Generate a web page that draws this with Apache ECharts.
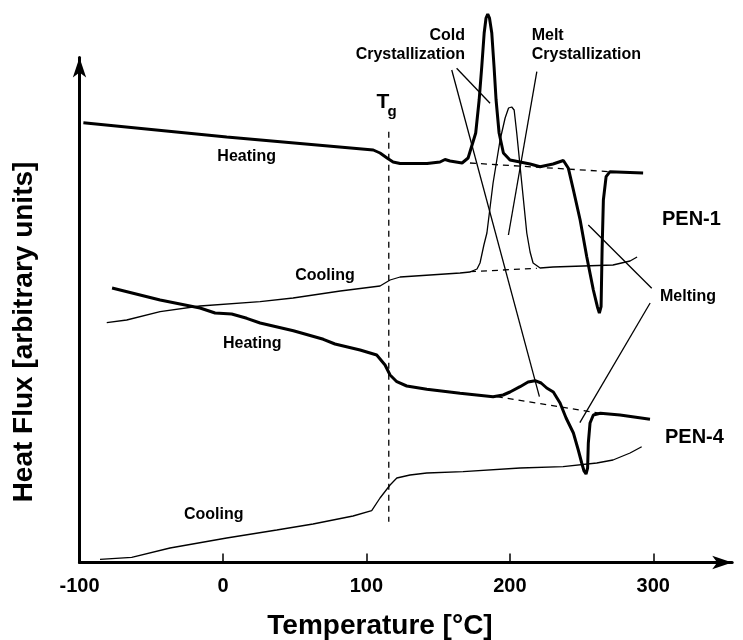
<!DOCTYPE html>
<html>
<head>
<meta charset="utf-8">
<title>PEN DSC</title>
<script src="https://cdn.jsdelivr.net/npm/echarts@6/dist/echarts.min.js"></script>
<style>
  html, body { margin: 0; padding: 0; background: #fff; }
  #chart { width: 743px; height: 640px; }
</style>
</head>
<body>
<div id="chart"></div>
<script>
// x = temperature [°C], y = heat flux (arbitrary units, 0 at the x axis)
const xTicks = [-100, 0, 100, 200, 300];

// PEN-1 heating (thick)
const pen1Heating = [
  [-97.3, 439.8], [2.6, 425.5], [104.8, 412.5], [109.5, 409.5], [114.4, 404.5],
  [118.6, 400.5], [123.5, 399], [142.3, 399], [151.3, 400.5], [154.8, 403],
  [158.3, 401.5], [166.7, 399.5], [170.9, 404.5], [176.2, 429.5], [178.6, 462.5],
  [180.4, 495.5], [182.1, 529.5], [183.4, 544.5], [184.6, 548.5], [185.8, 544.5],
  [187.4, 529.5], [189.0, 495.5], [190.4, 462.5], [192.5, 429.5], [195.5, 409.5],
  [200.1, 402.5], [214.1, 398.5], [221.1, 395.8], [230.1, 398.5], [237.3, 402],
  [240.8, 394.2], [244.3, 372.5], [249.0, 342.5], [253.6, 305.8], [258.2, 272.5],
  [261.0, 255.8], [262.4, 249.5], [263.6, 255.8], [264.3, 312.5], [265.2, 362.5],
  [267.1, 385.8], [269.8, 390.8], [292.9, 389.5]
];

// PEN-1 cooling (thin)
const pen1Cooling = [
  [-81.0, 239.8], [-67.1, 242.5], [-43.8, 250.8], [-16.0, 256.5], [25.9, 260.8],
  [48.9, 264.5], [81.8, 271.5], [109.5, 276.5], [116.5, 282.5], [123.5, 285.5],
  [165.3, 289.5], [172.2, 290.5], [177.1, 293.5], [179.2, 299.5], [181.9, 317.5],
  [184.0, 329.5], [188.3, 379.5], [193.2, 422.5], [196.7, 444.5], [199.1, 454.5],
  [201.3, 455.5], [203.0, 452.5], [204.8, 429.5], [208.3, 379.5], [211.8, 329.5],
  [214.1, 310.5], [216.2, 299.5], [221.1, 294.5], [230.1, 295.5], [271.9, 297.5],
  [283.8, 301.5], [288.7, 305.5]
];

// PEN-4 heating (thick)
const pen4Heating = [
  [-77.3, 274.5], [-43.8, 262.5], [-16.0, 254.5], [-5.5, 249.5], [6.1, 248.5],
  [16.6, 244.2], [25.9, 239.5], [49.1, 231.8], [70.0, 223.2], [78.1, 218.5],
  [95.6, 212.5], [107.2, 207.5], [113.0, 197.5], [116.5, 187.5], [121.2, 180.8],
  [128.1, 176.5], [142.1, 173.2], [165.3, 169.2], [188.3, 165.8], [195.3, 167.5],
  [200.1, 170.5], [207.1, 175.8], [212.7, 180.5], [217.6, 181.8], [221.8, 179.5],
  [225.7, 174.5], [230.3, 170.5], [235.0, 159.5], [239.2, 144.5], [244.3, 129.5],
  [247.7, 112.5], [250.1, 99.5], [251.7, 91.5], [253.1, 88.5], [254.2, 94.5],
  [254.7, 119.5], [255.9, 139.5], [258.2, 147.5], [263.1, 149.2], [276.8, 147.5],
  [297.7, 143.2]
];

// PEN-4 cooling (thin)
const pen4Cooling = [
  [-85.7, 3.2], [-63.6, 5.2], [-36.9, 14.5], [2.6, 24.5], [37.5, 32.5],
  [62.8, 38.5], [90.7, 46.5], [103.7, 51.8], [109.5, 64.5], [116.5, 77.5],
  [121.2, 84.5], [130.4, 87.5], [142.1, 89.5], [167.4, 90.8], [207.1, 94.5],
  [237.1, 95.8], [260.6, 99.5], [271.9, 102.5], [283.8, 109.5], [291.9, 115.8]
];

// dashed guides: Tg line and peak baselines
const tgLine = [[115.6, 430.8], [115.6, 40.8]];
const pen1HeatBase = [[172.2, 399.5], [269.8, 390.8]];
const pen1CoolBase = [[172.2, 290.8], [218.8, 294.2]];
const pen4HeatBase = [[190.9, 165.8], [262.9, 149.2]];

// leader lines from the annotations
const coldLeader1 = [[162.9, 494.2], [186.2, 459.2]];
const coldLeader2 = [[159.5, 492.5], [220.6, 165.8]];
const meltCrystLeader = [[218.8, 490.8], [199.0, 327.5]];
const meltLeader1 = [[254.7, 337.5], [298.9, 274.2]];
const meltLeader2 = [[297.8, 259.5], [248.8, 139.8]];

const FONT = '"Liberation Sans", Arial, Helvetica, sans-serif';

function curve(data, width, dashed) {
  return {
    type: 'line',
    data: data,
    symbol: 'none',
    clip: false,
    silent: true,
    lineStyle: {
      color: '#000',
      width: width,
      type: dashed ? [6, 5] : 'solid'
    }
  };
}

function label(text, x, y, size, align) {
  return {
    type: 'text',
    x: x,
    y: y,
    style: {
      text: text,
      fill: '#000',
      font: 'bold ' + size + 'px ' + FONT,
      align: align || 'center',
      verticalAlign: 'middle'
    }
  };
}

let chartDom = document.getElementById('chart');
let myChart = echarts.init(chartDom);
let option = {
  animation: false,
  backgroundColor: '#fff',
  grid: {
    left: 79.5,
    right: 10.8,
    top: 57.5,
    bottom: 77.5,
    containLabel: false,
    outerBoundsMode: 'none'
  },
  xAxis: {
    type: 'value',
    min: xTicks[0],
    max: 355,
    interval: 100,
    axisLine: {
      onZero: false,
      symbol: ['none', 'arrow'],
      symbolSize: [10, 20],
      lineStyle: { color: '#000', width: 3 }
    },
    axisTick: {
      inside: true,
      length: 9,
      lineStyle: { color: '#000', width: 1.5 },
      customValues: xTicks.slice(1)
    },
    axisLabel: {
      color: '#000',
      fontFamily: FONT,
      fontWeight: 'bold',
      fontSize: 20,
      margin: 14,
      customValues: xTicks
    },
    splitLine: { show: false }
  },
  yAxis: {
    type: 'value',
    min: 0,
    max: 505,
    axisLine: {
      onZero: false,
      symbol: ['none', 'arrow'],
      symbolSize: [10, 20],
      lineStyle: { color: '#000', width: 3 }
    },
    axisTick: { show: false },
    axisLabel: { show: false },
    splitLine: { show: false }
  },
  series: [
    curve(pen1Heating, 3),
    curve(pen1Cooling, 1.3),
    curve(pen4Heating, 3),
    curve(pen4Cooling, 1.3),
    curve(tgLine, 1.3, true),
    curve(pen1HeatBase, 1.3, true),
    curve(pen1CoolBase, 1.3, true),
    curve(pen4HeatBase, 1.3, true),
    curve(coldLeader1, 1.3),
    curve(coldLeader2, 1.3),
    curve(meltCrystLeader, 1.3),
    curve(meltLeader1, 1.3),
    curve(meltLeader2, 1.3)
  ],
  graphic: [
    label('Heating', 246.7, 156.7, 16),
    label('Cooling', 325, 276, 16),
    label('Heating', 252.3, 343.3, 16),
    label('Cooling', 213.7, 515, 16),
    label('Cold', 465, 36, 16, 'right'),
    label('Crystallization', 465, 55, 16, 'right'),
    label('Melt', 531.7, 36, 16, 'left'),
    label('Crystallization', 531.7, 55, 16, 'left'),
    label('PEN-1', 662, 219, 20, 'left'),
    label('Melting', 660, 297, 16, 'left'),
    label('PEN-4', 665, 437, 20, 'left'),
    label('T', 376.5, 102, 21, 'left'),
    label('g', 387.5, 112, 15, 'left'),
    label('Temperature [°C]', 380, 626, 28),
    {
      type: 'text',
      x: 24,
      y: 332,
      rotation: Math.PI / 2,
      style: {
        text: 'Heat Flux [arbitrary units]',
        fill: '#000',
        font: 'bold 28px ' + FONT,
        align: 'center',
        verticalAlign: 'middle'
      }
    }
  ]
};
myChart.setOption(option);
</script>
</body>
</html>
